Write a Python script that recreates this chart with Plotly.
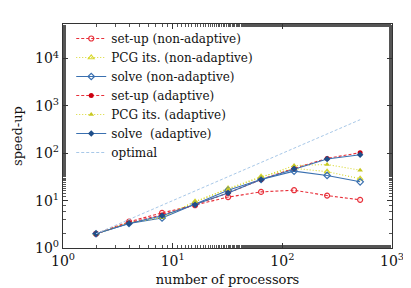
import plotly.graph_objects as go

procs = [2, 4, 8, 16, 32, 64, 128, 256, 512]
setup_nonadaptive = [2.0, 3.6, 5.5, 8.0, 11.9, 15.3, 16.6, 12.8, 10.4]
pcg_nonadaptive = [2.0, 3.4, 4.5, 9.5, 18.0, 32.0, 48.0, 41.0, 29.0]
solve_nonadaptive = [2.0, 3.3, 4.3, 8.5, 16.5, 28.0, 42.0, 34.0, 25.0]
setup_adaptive = [2.0, 3.4, 5.0, 8.2, 14.5, 28.0, 48.0, 78.0, 103.0]
pcg_adaptive = [2.0, 3.4, 4.4, 9.5, 17.5, 31.0, 55.0, 58.0, 44.0]
solve_adaptive = [2.0, 3.3, 4.8, 8.2, 14.5, 28.0, 47.0, 76.0, 93.0]
optimal = [2, 4, 8, 16, 32, 64, 128, 256, 512]

RED = "#e8303a"
YEL = "#d8d830"
BLU = "#3a70b0"
FONT = "DejaVu Serif"

series = [
    ("set-up (non-adaptive)", setup_nonadaptive, RED, "3px,2px", dict(symbol="circle-open", size=5, color=RED, line=dict(width=1.2, color=RED))),
    ("PCG its. (non-adaptive)", pcg_nonadaptive, YEL, "1px,2px", dict(symbol="triangle-up-open", size=5, color=YEL, line=dict(width=1.2, color=YEL))),
    ("solve (non-adaptive)", solve_nonadaptive, BLU, "solid", dict(symbol="diamond-open", size=5, color=BLU, line=dict(width=1.2, color=BLU))),
    ("set-up (adaptive)", setup_adaptive, RED, "3px,2px", dict(symbol="circle", size=5, color="#cc0010")),
    ("PCG its. (adaptive)", pcg_adaptive, YEL, "1px,2px", dict(symbol="triangle-up", size=5, color="#c8c820")),
    ("solve  (adaptive)", solve_adaptive, BLU, "solid", dict(symbol="diamond", size=5, color="#1f4f8a")),
]

fig = go.Figure()
for name, ys, col, dash, mk in series:
    fig.add_trace(go.Scatter(x=procs, y=ys, name=name, mode="lines+markers",
                             line=dict(color=col, width=1.1, dash=dash), marker=mk))
fig.add_trace(go.Scatter(x=procs, y=optimal, name="optimal", mode="lines",
                         line=dict(color="#a8c8e8", width=1, dash="3px,2px")))

tickvals = [1, 10, 100, 1000, 10000]
ticktext = ["10<sup>0</sup>", "10<sup>1</sup>", "10<sup>2</sup>", "10<sup>3</sup>", "10<sup>4</sup>"]

axis_common = dict(type="log", showgrid=False, zeroline=False, showline=True,
                   linecolor="#333", linewidth=1.2, mirror="ticks", ticks="inside",
                   ticklen=5, tickcolor="#333", automargin=False,
                   minor=dict(ticks="inside", ticklen=3, tickcolor="#555", showgrid=False),
                   tickfont=dict(family=FONT, size=14, color="#111"))

fig.update_xaxes(range=[0, 3], tickvals=tickvals[:4], ticktext=ticktext[:4],
                 title=dict(text="number of processors", font=dict(family=FONT, size=13, color="#111"), standoff=6),
                 **axis_common)
fig.update_yaxes(range=[0, 4.73], tickvals=tickvals, ticktext=ticktext,
                 title=dict(text="speed-up", font=dict(family=FONT, size=13, color="#111"), standoff=9),
                 **axis_common)

fig.update_layout(width=411, height=288, margin=dict(l=55, r=27, t=16, b=48),
                  plot_bgcolor="white", paper_bgcolor="white",
                  font=dict(family=FONT, color="#111"),
                  legend=dict(x=0.025, y=1.0, xanchor="left", yanchor="top",
                              bgcolor="rgba(0,0,0,0)", font=dict(family=FONT, size=12),
                              tracegroupgap=0, itemwidth=30),
                  showlegend=True)

fig.write_html("out.html")
